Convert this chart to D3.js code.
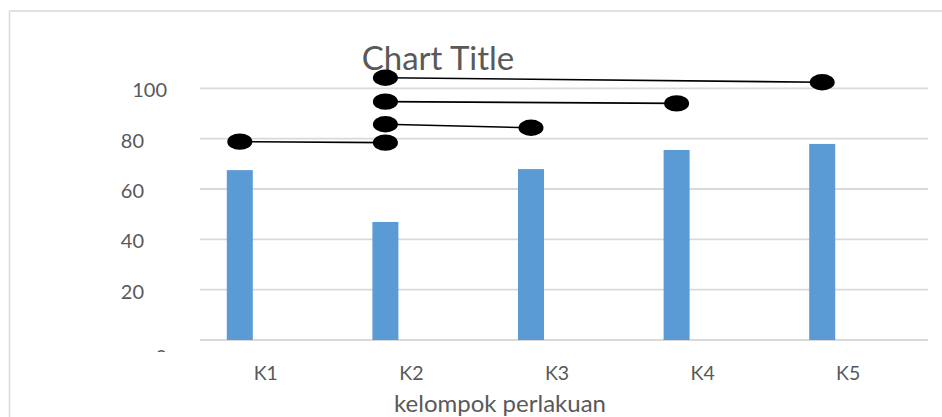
<!DOCTYPE html>
<html>
<head>
<meta charset="utf-8">
<script src="https://cdn.jsdelivr.net/npm/d3@7"></script>
<style>
    body { margin: 0; background: #fff; }
    text { font-family: Lato, "Open Sans", sans-serif; fill: #595959; }
</style>
</head>
<body>
<div id="chart"></div>
<script>
// chart data
let categories = ["K1", "K2", "K3", "K4", "K5"];
let values = [67.5, 46.9, 67.9, 75.5, 77.9];
let yTicks = [0, 20, 40, 60, 80, 100];
let seriesSlots = ["s1", "s2", "s3"];

// bracket annotations (drawn shapes on top of the chart)
let bracketFrom = ["K1", "K2", "K2", "K2"];
let bracketTo = ["K2", "K3", "K4", "K5"];
let bracketFromY = [78.8, 85.7, 94.7, 104.2];
let bracketToY = [78.4, 84.3, 94.0, 102.4];

let title = "Chart Title";
let xTitle = "kelompok perlakuan";

let width = 942;
let height = 417;
let plotLeft = 200, plotRight = 928;
let plotTop = 88.3, plotBottom = 340;
let barColor = "#5b9bd5";
let gridColor = "#d9d9d9";

var svg = d3.select("#chart").append("svg")
    .attr("width", width)
    .attr("height", height);

// chart area border
svg.append("rect")
    .attr("x", 9.5)
    .attr("y", 11)
    .attr("width", width + 20)
    .attr("height", height + 20)
    .attr("fill", "none")
    .attr("stroke", gridColor)
    .attr("stroke-width", 1.5);

var x = d3.scaleBand()
    .domain(categories)
    .range([plotLeft - 7, plotRight - 7]);

var x1 = d3.scaleBand()
    .domain(seriesSlots)
    .range([0, x.bandwidth()])
    .paddingInner(0)
    .paddingOuter(1.3);

var y = d3.scaleLinear()
    .domain([0, 100])
    .range([plotBottom, plotTop]);

let barCenter = c => x(c) + x1("s1") + x1.bandwidth() / 2;

// gridlines
svg.append("g").selectAll("line")
    .data(yTicks)
    .join("line")
    .attr("x1", plotLeft)
    .attr("x2", plotRight)
    .attr("y1", d => y(d))
    .attr("y2", d => y(d))
    .attr("stroke", gridColor)
    .attr("stroke-width", 1.8);

// y labels (excel put 0 and 100 a bit off, and clipped the 0)
svg.append("defs").append("clipPath").attr("id", "yclip")
    .append("rect")
    .attr("x", 0).attr("y", 0)
    .attr("width", plotLeft).attr("height", 352);

svg.append("g").attr("clip-path", "url(#yclip)")
    .selectAll("text")
    .data(yTicks)
    .join("text")
    .attr("x", d => (d == 0 || d == 100) ? 167 : 144)
    .attr("y", d => y(d) + (d == 0 ? 24 : 9))
    .attr("text-anchor", "end")
    .style("font-size", "20px")
    .text(d => d);

// bars
svg.append("g").selectAll("rect")
    .data(values)
    .join("rect")
    .attr("x", (d, i) => x(categories[i]) + x1("s1"))
    .attr("width", x1.bandwidth())
    .attr("y", d => y(d))
    .attr("height", d => y(0) - y(d))
    .attr("fill", barColor);

// x labels
svg.append("g").selectAll("text")
    .data(categories)
    .join("text")
    .attr("x", d => x(d) + x.bandwidth() / 2)
    .attr("y", 380)
    .attr("text-anchor", "middle")
    .style("font-size", "19.5px")
    .text(d => d);

// title + axis title
svg.append("text")
    .attr("x", 438)
    .attr("y", 70)
    .attr("text-anchor", "middle")
    .style("font-size", "33px")
    .text(title);

svg.append("text")
    .attr("x", 500)
    .attr("y", 412)
    .attr("text-anchor", "middle")
    .style("font-size", "24px")
    .text(xTitle);

// brackets
var brackets = bracketFrom.map((f, i) => ({
    x0: barCenter(f), y0: y(bracketFromY[i]),
    x1: barCenter(bracketTo[i]), y1: y(bracketToY[i])
}));

var bg = svg.append("g");
bg.selectAll("line")
    .data(brackets)
    .join("line")
    .attr("x1", d => d.x0)
    .attr("y1", d => d.y0)
    .attr("x2", d => d.x1)
    .attr("y2", d => d.y1)
    .attr("stroke", "#000")
    .attr("stroke-width", 1.6);

bg.selectAll("ellipse")
    .data(brackets.flatMap(d => [[d.x0, d.y0], [d.x1, d.y1]]))
    .join("ellipse")
    .attr("cx", d => d[0])
    .attr("cy", d => d[1])
    .attr("rx", 12.5)
    .attr("ry", 8.2)
    .attr("fill", "#000");
</script>
</body>
</html>
